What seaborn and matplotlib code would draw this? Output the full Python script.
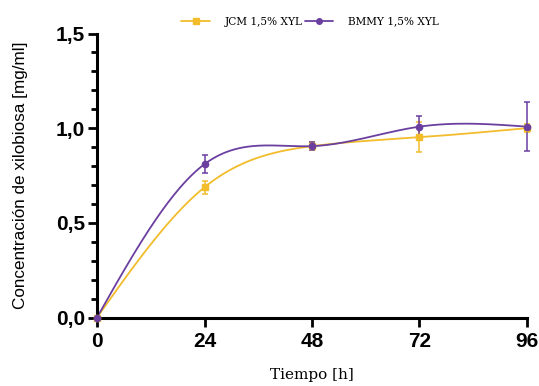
import numpy as np
import pandas as pd
import matplotlib
matplotlib.use("Agg")
import matplotlib.pyplot as plt
import seaborn as sns
from matplotlib.lines import Line2D
from matplotlib.ticker import MultipleLocator

time_h = [0, 24, 48, 72, 96]
jcm_mean = [0.0, 0.688, 0.905, 0.952, 1.0]
jcm_err = [0.0, 0.035, 0.02, 0.08, 0.02]
bmmy_mean = [0.0, 0.81, 0.905, 1.008, 1.008]
bmmy_err = [0.0, 0.047, 0.02, 0.058, 0.13]
series_names = ["JCM 1,5% XYL", "BMMY 1,5% XYL"]
x_ticks = [0, 24, 48, 72, 96]

colors = {"JCM 1,5% XYL": "#F2BC2B", "BMMY 1,5% XYL": "#6A3FA0"}
markers = {"JCM 1,5% XYL": "s", "BMMY 1,5% XYL": "o"}


def natural_spline(x, y, xs):
    x = np.asarray(x, float); y = np.asarray(y, float)
    n = len(x); h = np.diff(x)
    A = np.zeros((n, n)); b = np.zeros(n)
    A[0, 0] = A[-1, -1] = 1
    for i in range(1, n - 1):
        A[i, i - 1] = h[i - 1]; A[i, i] = 2 * (h[i - 1] + h[i]); A[i, i + 1] = h[i]
        b[i] = 3 * ((y[i + 1] - y[i]) / h[i] - (y[i] - y[i - 1]) / h[i - 1])
    c = np.linalg.solve(A, b)
    out = np.empty_like(xs)
    for k, xv in enumerate(xs):
        i = min(np.searchsorted(x, xv, side="right") - 1, n - 2)
        i = max(i, 0)
        dx = xv - x[i]
        bb = (y[i + 1] - y[i]) / h[i] - h[i] * (2 * c[i] + c[i + 1]) / 3
        d = (c[i + 1] - c[i]) / (3 * h[i])
        out[k] = y[i] + bb * dx + c[i] * dx ** 2 + d * dx ** 3
    return out


pts = pd.DataFrame({
    "t": time_h * 2,
    "v": jcm_mean + bmmy_mean,
    "e": jcm_err + bmmy_err,
    "s": [series_names[0]] * 5 + [series_names[1]] * 5,
})

xs = np.linspace(0, 96, 300)
curves = pd.concat([
    pd.DataFrame({"t": xs, "v": natural_spline(time_h, jcm_mean, xs), "s": series_names[0]}),
    pd.DataFrame({"t": xs, "v": natural_spline(time_h, bmmy_mean, xs), "s": series_names[1]}),
])

sns.set_style("ticks")
plt.rcParams["axes.edgecolor"] = "black"
plt.rcParams["xtick.color"] = "black"
plt.rcParams["ytick.color"] = "black"
plt.rcParams["text.color"] = "black"
plt.rcParams["axes.labelcolor"] = "black"

fig = plt.figure(figsize=(5.39, 3.86), dpi=100)
ax = fig.add_axes([97 / 539, (386 - 317.5) / 386, 430 / 539, 284 / 386])

sns.lineplot(data=curves, x="t", y="v", hue="s", palette=colors, lw=1.3,
             legend=False, ax=ax, estimator=None, sort=False)
for name in series_names:
    d = pts[pts.s == name]
    ax.errorbar(d.t, d.v, yerr=d.e, fmt="none", ecolor=colors[name],
                elinewidth=1.1, capsize=2.5, capthick=1.1, clip_on=False, zorder=3)
    ax.plot(d.t, d.v, ls="none", marker=markers[name], color=colors[name],
            ms=4.5, clip_on=False, zorder=4)

ax.set_xlim(0, 96)
ax.set_ylim(0, 1.5)
ax.set_xticks(x_ticks)
ax.set_xticklabels([str(v) for v in x_ticks])
ax.yaxis.set_major_locator(MultipleLocator(0.5))
ax.yaxis.set_minor_locator(MultipleLocator(0.1))
ax.set_yticklabels([f"{v:.1f}".replace(".", ",") for v in ax.get_yticks()])

sns.despine(ax=ax)
for sp in ["left", "bottom"]:
    ax.spines[sp].set_linewidth(2.2)
    ax.spines[sp].set_color("black")
ax.tick_params(axis="both", which="major", width=2, length=6.5, labelsize=15, pad=2)
ax.tick_params(axis="x", which="major", pad=4)
ax.tick_params(axis="y", which="minor", width=2, length=4.5)
for lab in ax.get_xticklabels() + ax.get_yticklabels():
    lab.set_fontfamily("Liberation Sans")
    lab.set_fontweight("bold")

ax.set_xlabel("Tiempo [h]", family="DejaVu Serif", fontsize=11, labelpad=12)
ax.set_ylabel("Concentración de xilobiosa [mg/ml]", family="Liberation Sans",
              fontsize=12.3, labelpad=20)

handles = [Line2D([0], [0], color=colors[n], marker=markers[n], ms=4, lw=1.3)
           for n in series_names]
fig.legend(handles, series_names, loc="center", bbox_to_anchor=(0.575, 0.944),
           ncol=2, frameon=False, prop={"family": "DejaVu Serif", "size": 7.6},
           handlelength=2.7, handletextpad=1.4, columnspacing=0.2)

fig.savefig("out.png", dpi=100)
